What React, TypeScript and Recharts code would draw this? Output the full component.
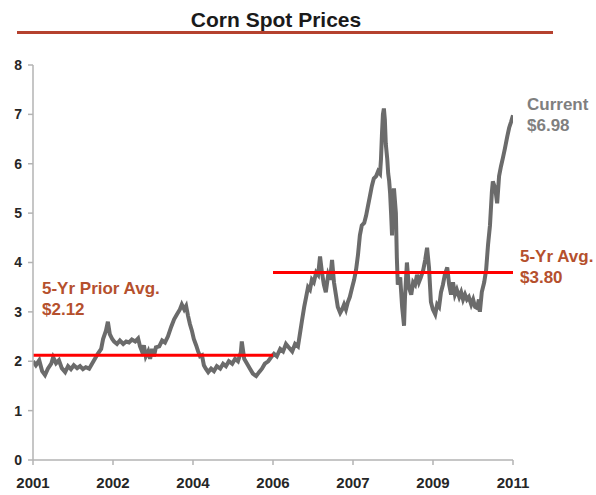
import React from 'react';
import { LineChart, Line, XAxis, YAxis, ReferenceLine } from 'recharts';

// decimal-year positions of the price readings
const dates = [
  2001.00, 2001.06, 2001.13, 2001.19, 2001.25, 2001.31, 2001.38, 2001.42, 2001.48, 2001.54,
  2001.60, 2001.67, 2001.73, 2001.79, 2001.85, 2001.92, 2001.98, 2002.04, 2002.10, 2002.17,
  2002.23, 2002.29, 2002.35, 2002.42, 2002.46, 2002.52, 2002.56, 2002.60, 2002.65, 2002.69,
  2002.75, 2002.81, 2002.88, 2002.94, 2003.00, 2003.06, 2003.13, 2003.19, 2003.23, 2003.27,
  2003.31, 2003.35, 2003.40, 2003.44, 2003.48, 2003.52, 2003.56, 2003.63, 2003.69, 2003.75,
  2003.81, 2003.88, 2003.94, 2004.00, 2004.06, 2004.10, 2004.15, 2004.19, 2004.23, 2004.27,
  2004.31, 2004.35, 2004.40, 2004.44, 2004.48, 2004.52, 2004.56, 2004.60, 2004.65, 2004.71,
  2004.77, 2004.83, 2004.90, 2004.96, 2005.02, 2005.08, 2005.15, 2005.21, 2005.27, 2005.33,
  2005.35, 2005.40, 2005.46, 2005.52, 2005.58, 2005.65, 2005.71, 2005.77, 2005.83, 2005.90,
  2005.96, 2006.02, 2006.08, 2006.15, 2006.21, 2006.27, 2006.33, 2006.40, 2006.46, 2006.52,
  2006.56, 2006.60, 2006.65, 2006.69, 2006.73, 2006.77, 2006.81, 2006.85, 2006.90, 2006.94,
  2006.98, 2007.02, 2007.06, 2007.10, 2007.15, 2007.19, 2007.23, 2007.27, 2007.31, 2007.35,
  2007.40, 2007.44, 2007.48, 2007.52, 2007.56, 2007.60, 2007.65, 2007.69, 2007.73, 2007.77,
  2007.81, 2007.85, 2007.90, 2007.94, 2007.98, 2008.02, 2008.06, 2008.10, 2008.15, 2008.19,
  2008.23, 2008.25, 2008.27, 2008.29, 2008.31, 2008.33, 2008.35, 2008.38, 2008.40, 2008.42,
  2008.44, 2008.46, 2008.48, 2008.50, 2008.52, 2008.56, 2008.58, 2008.60, 2008.65, 2008.69,
  2008.73, 2008.75, 2008.79, 2008.83, 2008.88, 2008.92, 2008.96, 2009.00, 2009.04, 2009.08,
  2009.13, 2009.17, 2009.21, 2009.25, 2009.29, 2009.33, 2009.38, 2009.42, 2009.46, 2009.50,
  2009.54, 2009.58, 2009.63, 2009.67, 2009.71, 2009.75, 2009.79, 2009.83, 2009.88, 2009.92,
  2009.96, 2010.00, 2010.04, 2010.08, 2010.13, 2010.17, 2010.21, 2010.25, 2010.29, 2010.31,
  2010.35, 2010.40, 2010.44, 2010.48, 2010.52, 2010.56, 2010.58, 2010.63, 2010.67, 2010.71,
  2010.75, 2010.79, 2010.83, 2010.88, 2010.92, 2010.96, 2011.00,
];

// corn spot price, $/bushel
const prices = [
  2.00, 1.92, 2.02, 1.80, 1.72, 1.85, 1.95, 2.08, 1.96, 2.02,
  1.86, 1.78, 1.90, 1.84, 1.92, 1.86, 1.90, 1.84, 1.88, 1.85,
  1.95, 2.05, 2.15, 2.25, 2.45, 2.62, 2.80, 2.55, 2.45, 2.40,
  2.35, 2.42, 2.35, 2.40, 2.38, 2.44, 2.40, 2.46, 2.30, 2.20,
  2.32, 2.10, 2.20, 2.05, 2.25, 2.10, 2.28, 2.30, 2.42, 2.38,
  2.50, 2.70, 2.85, 2.95, 3.05, 3.15, 3.05, 3.12, 2.92, 2.75,
  2.62, 2.45, 2.32, 2.20, 2.10, 2.12, 1.92, 1.85, 1.78, 1.85,
  1.80, 1.90, 1.85, 1.95, 1.90, 2.00, 1.95, 2.05, 2.00, 2.18,
  2.40, 2.05, 1.95, 1.85, 1.75, 1.70, 1.78, 1.85, 1.95, 2.00,
  2.08, 2.15, 2.10, 2.25, 2.20, 2.35, 2.28, 2.20, 2.35, 2.30,
  2.55, 2.80, 3.10, 3.30, 3.50, 3.45, 3.65, 3.60, 3.80, 3.75,
  4.12, 3.80, 3.55, 3.40, 3.75, 3.65, 4.05, 3.60, 3.35, 3.10,
  2.98, 3.05, 3.15, 3.05, 3.20, 3.30, 3.50, 3.65, 3.85, 4.15,
  4.55, 4.75, 4.80, 4.95, 5.15, 5.35, 5.55, 5.70, 5.75, 5.85,
  5.80, 6.10, 6.60, 7.00, 7.12, 6.90, 6.40, 6.10, 5.80, 5.65,
  5.40, 5.00, 4.55, 5.30, 5.50, 5.00, 4.10, 3.55, 3.70, 3.10,
  2.72, 3.30, 4.00, 3.50, 3.35, 3.60, 3.55, 3.75, 3.60, 3.70,
  3.85, 4.05, 4.30, 3.90, 3.20, 3.05, 2.95, 3.15, 3.10, 3.40,
  3.55, 3.75, 3.90, 3.55, 3.35, 3.60, 3.35, 3.45, 3.30, 3.40,
  3.25, 3.35, 3.25, 3.30, 3.15, 3.25, 3.10, 3.08, 3.25, 3.00,
  3.40, 3.60, 3.85, 4.36, 4.75, 5.43, 5.64, 5.50, 5.20, 5.75,
  5.95, 6.12, 6.30, 6.55, 6.73, 6.85, 6.98,
];

const xTicks = [2001, 2002.6667, 2004.3333, 2006, 2007.6667, 2009.3333, 2011];
const xTickLabels = ['2001', '2002', '2004', '2006', '2007', '2009', '2011'];
const yTicks = [0, 1, 2, 3, 4, 5, 6, 7, 8];

const priorAvg = 2.12;
const recentAvg = 3.8;
const currentPrice = 6.98;
const priorPeriod = [2001, 2006];
const recentPeriod = [2006, 2011];

const data = dates.map((t, i) => ({ t, p: prices[i] }));

const FONT = 'Liberation Sans, Arial, sans-serif';
const yTickStyle = { fill: '#262626', fontSize: 14, fontWeight: 700, fontFamily: FONT };
const xTickStyle = { fill: '#262626', fontSize: 15, fontWeight: 700, fontFamily: FONT };
const noteStyle: React.CSSProperties = {
  position: 'absolute',
  fontFamily: FONT,
  fontWeight: 700,
  fontSize: 17,
  lineHeight: '21px',
  color: '#b5502d',
  whiteSpace: 'nowrap',
};

export default function App() {
  return (
    <div style={{ position: 'absolute', left: 0, top: 0, width: 596, height: 495, background: '#fff' }}>
      <div
        style={{
          position: 'absolute',
          left: 0,
          width: 552,
          top: 7,
          textAlign: 'center',
          fontFamily: FONT,
          fontWeight: 700,
          fontSize: 21,
          lineHeight: '26px',
          color: '#1a1a1a',
        }}
      >
        Corn Spot Prices
      </div>
      <div style={{ position: 'absolute', left: 17, top: 31, width: 536, height: 3, background: '#b5412e' }} />
      <LineChart
        width={596}
        height={495}
        data={data}
        margin={{ top: 65, right: 83, bottom: 10, left: 0 }}
        style={{ position: 'absolute', left: 0, top: 0 }}
      >
        <XAxis
          dataKey="t"
          type="number"
          domain={[2001, 2011]}
          ticks={xTicks}
          tickFormatter={(v: number) => xTickLabels[xTicks.findIndex((x) => Math.abs(x - v) < 0.01)] ?? ''}
          stroke="#b3b3b3"
          strokeWidth={1.5}
          tickSize={5}
          tickMargin={12}
          tick={xTickStyle}
          height={25}
          allowDataOverflow
        />
        <YAxis
          type="number"
          domain={[0, 8]}
          ticks={yTicks}
          stroke="#b3b3b3"
          strokeWidth={1.5}
          tickSize={5}
          tickMargin={6}
          tick={yTickStyle}
          width={33}
        />
        <Line
          dataKey="p"
          type="linear"
          stroke="#6b6b6b"
          strokeWidth={4}
          dot={false}
          isAnimationActive={false}
        />
        <ReferenceLine
          segment={[{ x: priorPeriod[0], y: priorAvg }, { x: priorPeriod[1], y: priorAvg }]}
          stroke="#ff0000"
          strokeWidth={3}
        />
        <ReferenceLine
          segment={[{ x: recentPeriod[0], y: recentAvg }, { x: recentPeriod[1], y: recentAvg }]}
          stroke="#ff0000"
          strokeWidth={3}
        />
      </LineChart>
      <div style={{ ...noteStyle, left: 42, top: 278 }}>
        5-Yr Prior Avg.
        <br />${priorAvg.toFixed(2)}
      </div>
      <div style={{ ...noteStyle, left: 520, top: 246 }}>
        5-Yr Avg.
        <br />${recentAvg.toFixed(2)}
      </div>
      <div style={{ ...noteStyle, left: 527, top: 94, color: '#7f7f7f' }}>
        Current
        <br />${currentPrice.toFixed(2)}
      </div>
    </div>
  );
}
